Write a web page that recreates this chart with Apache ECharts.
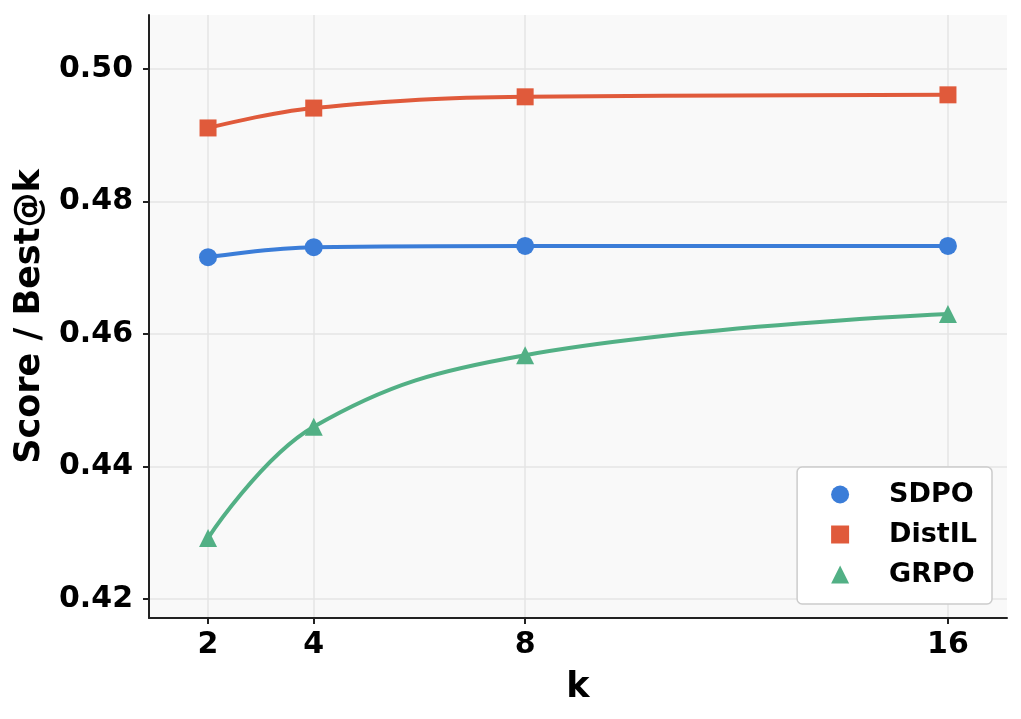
<!DOCTYPE html>
<html lang="en">
<head>
    <meta charset="UTF-8">
    <title>Score / Best@k</title>
    <script src="https://cdn.jsdelivr.net/npm/echarts@6/dist/echarts.min.js"></script>
    <style>
        html, body { margin: 0; padding: 0; background: #fff; }
        #mychart { width: 1021px; height: 719px; }
    </style>
</head>
<body>
<div id="mychart"></div>
<script>
    // data
    var kValues = [2, 4, 8, 16];
    var sdpo = [0.4716, 0.4731, 0.4733, 0.4733];
    var distil = [0.4911, 0.4941, 0.4958, 0.4961];
    var grpo = [0.4292, 0.4460, 0.4568, 0.4630];
    var yTicks = [0.42, 0.44, 0.46, 0.48, 0.50];

    var names = ['SDPO', 'DistIL', 'GRPO'];
    var colors = ['#3b7dd8', '#e05a3b', '#52b085'];
    var symbols = ['circle', 'rect', 'triangle'];
    var values = [sdpo, distil, grpo];

    function pairs(ys) {
        var out = [];
        for (var i = 0; i < kValues.length; i++) {
            out.push([kValues[i], ys[i]]);
        }
        return out;
    }

    var font = 'DejaVu Sans';
    var series = [];
    // smooth lines first (not in legend)
    for (var i = 0; i < names.length; i++) {
        series.push({
            name: names[i] + '_line',
            type: 'line',
            data: pairs(values[i]),
            smooth: 0.4,
            showSymbol: false,
            silent: true,
            lineStyle: { color: colors[i], width: 4 },
            z: 2
        });
    }
    // markers
    for (var i = 0; i < names.length; i++) {
        series.push({
            name: names[i],
            type: 'scatter',
            data: pairs(values[i]),
            symbol: symbols[i],
            symbolSize: i === 1 ? 17 : 18,
            itemStyle: { color: colors[i], opacity: 1 },
            z: 3
        });
    }

    var e = echarts.init(document.getElementById('mychart'));
    var op = {
        animation: false,
        backgroundColor: '#ffffff',
        textStyle: { fontFamily: font },
        grid: {
            left: 149,
            right: 14,
            top: 15,
            bottom: 101,
            show: true,
            backgroundColor: '#f9f9f9',
            borderWidth: 0
        },
        legend: {
            data: names,
            orient: 'vertical',
            right: 29,
            bottom: 115,
            padding: [14, 15, 16, 34],
            itemGap: 13,
            itemWidth: 18,
            itemHeight: 18,
            backgroundColor: '#ffffff',
            borderColor: '#cccccc',
            borderWidth: 1.5,
            borderRadius: 5,
            textStyle: {
                fontFamily: font,
                fontSize: 27,
                fontWeight: 'bold',
                color: '#000',
                padding: [0, 0, 0, 35]
            }
        },
        xAxis: {
            type: 'value',
            min: 0.883,
            max: 17.117,
            name: 'k',
            nameLocation: 'middle',
            nameGap: 52,
            nameTextStyle: { fontFamily: font, fontSize: 35, fontWeight: 'bold', color: '#000' },
            axisLine: { show: true, lineStyle: { color: '#222', width: 2 } },
            axisTick: { show: true, inside: false, length: 6, customValues: kValues, lineStyle: { color: '#222', width: 2 } },
            axisLabel: { customValues: kValues, fontFamily: font, fontSize: 30, fontWeight: 'bold', color: '#000', margin: 12 },
            splitLine: { show: true, lineStyle: { color: '#e4e4e4', width: 1.5 } }
        },
        yAxis: {
            type: 'value',
            min: 0.41713,
            max: 0.50815,
            name: 'Score / Best@k',
            nameLocation: 'middle',
            nameGap: 102,
            nameTextStyle: { fontFamily: font, fontSize: 35, fontWeight: 'bold', color: '#000' },
            axisLine: { show: true, lineStyle: { color: '#222', width: 2 } },
            axisTick: { show: true, inside: false, length: 6, customValues: yTicks, lineStyle: { color: '#222', width: 2 } },
            axisLabel: {
                customValues: yTicks,
                fontFamily: font, fontSize: 30, fontWeight: 'bold', color: '#000', margin: 16,
                formatter: function (v) { return v.toFixed(2); }
            },
            splitLine: { show: true, lineStyle: { color: '#e4e4e4', width: 1.5 } }
        },
        series: series
    };
    e.setOption(op);
</script>
</body>
</html>
